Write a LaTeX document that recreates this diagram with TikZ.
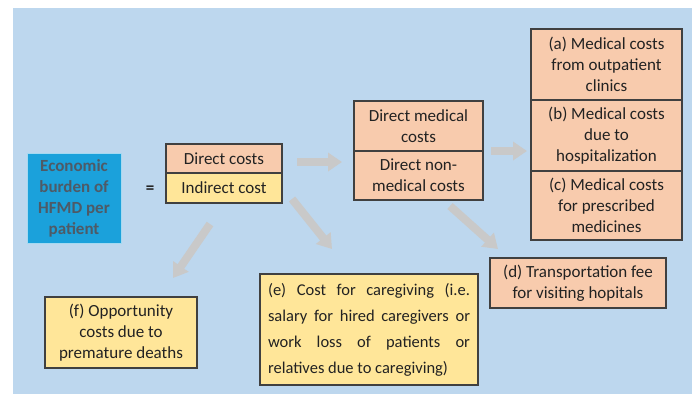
\documentclass[tikz,border=0pt]{standalone}
\usepackage{fontspec}
\setmainfont{Carlito}
\usetikzlibrary{arrows.meta}
\definecolor{bgblue}{HTML}{BDD7EE}
\definecolor{boxorange}{HTML}{F8CBAD}
\definecolor{boxyellow}{HTML}{FFE699}
\definecolor{boxedge}{HTML}{404040}
\definecolor{ecoblue}{HTML}{1BA1DB}
\definecolor{ecotext}{HTML}{4E5A66}
\definecolor{arrowgray}{HTML}{C9C9C9}
\definecolor{textdark}{HTML}{222222}
\begin{document}
\begin{tikzpicture}[x=1pt,y=-1pt,
  basebox/.style={draw=boxedge, line width=1.1pt, align=center, inner sep=0pt,
    font=\fontsize{17}{21}\selectfont, text=textdark},
  obox/.style={basebox, fill=boxorange},
  ybox/.style={basebox, fill=boxyellow},
  ecobox/.style={draw=ecoblue!40!white, line width=1pt, fill=ecoblue, align=center,
    inner sep=0pt, font=\bfseries\fontsize{17}{21}\selectfont, text=ecotext},
  bigarrow/.style={draw=arrowgray, line width=8pt, -{Triangle[length=14pt,width=18pt]}}
]
\useasboundingbox (0,0) rectangle (692,394);
\fill[white] (0,0) rectangle (692,394);
\fill[bgblue] (13,8) rectangle (692,394);

\node[ecobox, minimum width=94pt, minimum height=90pt] (eco) at (74,198) {Economic\\burden of\\HFMD per\\patient};
\node[font=\bfseries\fontsize{17}{21}\selectfont, text=textdark] (eq) at (150,190) {=};
\node[obox, minimum width=116pt, minimum height=29pt] (dc) at (224,158.5) {Direct costs};
\node[ybox, minimum width=116pt, minimum height=30pt] (ic) at (224,188) {Indirect cost};
\node[obox, minimum width=129pt, minimum height=50pt] (dm) at (418.5,126) {Direct medical\\costs};
\node[obox, minimum width=129pt, minimum height=49pt] (dn) at (418.5,175.5) {Direct non-\\medical costs};
\node[obox, minimum width=151pt, minimum height=71pt] (a) at (606.5,64.5) {(a) Medical costs\\from outpatient\\clinics};
\node[obox, minimum width=151pt, minimum height=71pt] (b) at (606.5,135.5) {(b) Medical costs\\due to\\hospitalization};
\node[obox, minimum width=151pt, minimum height=69pt] (c) at (606.5,205.5) {(c) Medical costs\\for prescribed\\medicines};
\node[obox, minimum width=176pt, minimum height=50pt] (d) at (578,283) {(d) Transportation fee\\for visiting hopitals};
\node[ybox, minimum width=218pt, minimum height=111pt, text width=202pt, align=justify,
  font=\fontsize{16.5}{26}\selectfont] (e) at (369,329.5)
  {(e) Cost for caregiving (i.e.\linebreak salary for hired caregivers or\linebreak work loss of patients or\linebreak relatives due to caregiving)};
\node[ybox, minimum width=152pt, minimum height=71pt] (f) at (121,332.5) {(f) Opportunity\\costs due to\\premature deaths};

\coordinate (a1s) at (297,162); \coordinate (a1e) at (342,162);
\coordinate (a2s) at (491,151); \coordinate (a2e) at (527,151);
\coordinate (a3s) at (210,224); \coordinate (a3e) at (173,278);
\coordinate (a4s) at (292,199); \coordinate (a4e) at (332,249);
\coordinate (a5s) at (450,206); \coordinate (a5e) at (498,249);
\draw[bigarrow] (a1s) -- (a1e);
\draw[bigarrow] (a2s) -- (a2e);
\draw[bigarrow] (a3s) -- (a3e);
\draw[bigarrow] (a4s) -- (a4e);
\draw[bigarrow] (a5s) -- (a5e);
\end{tikzpicture}
\end{document}
